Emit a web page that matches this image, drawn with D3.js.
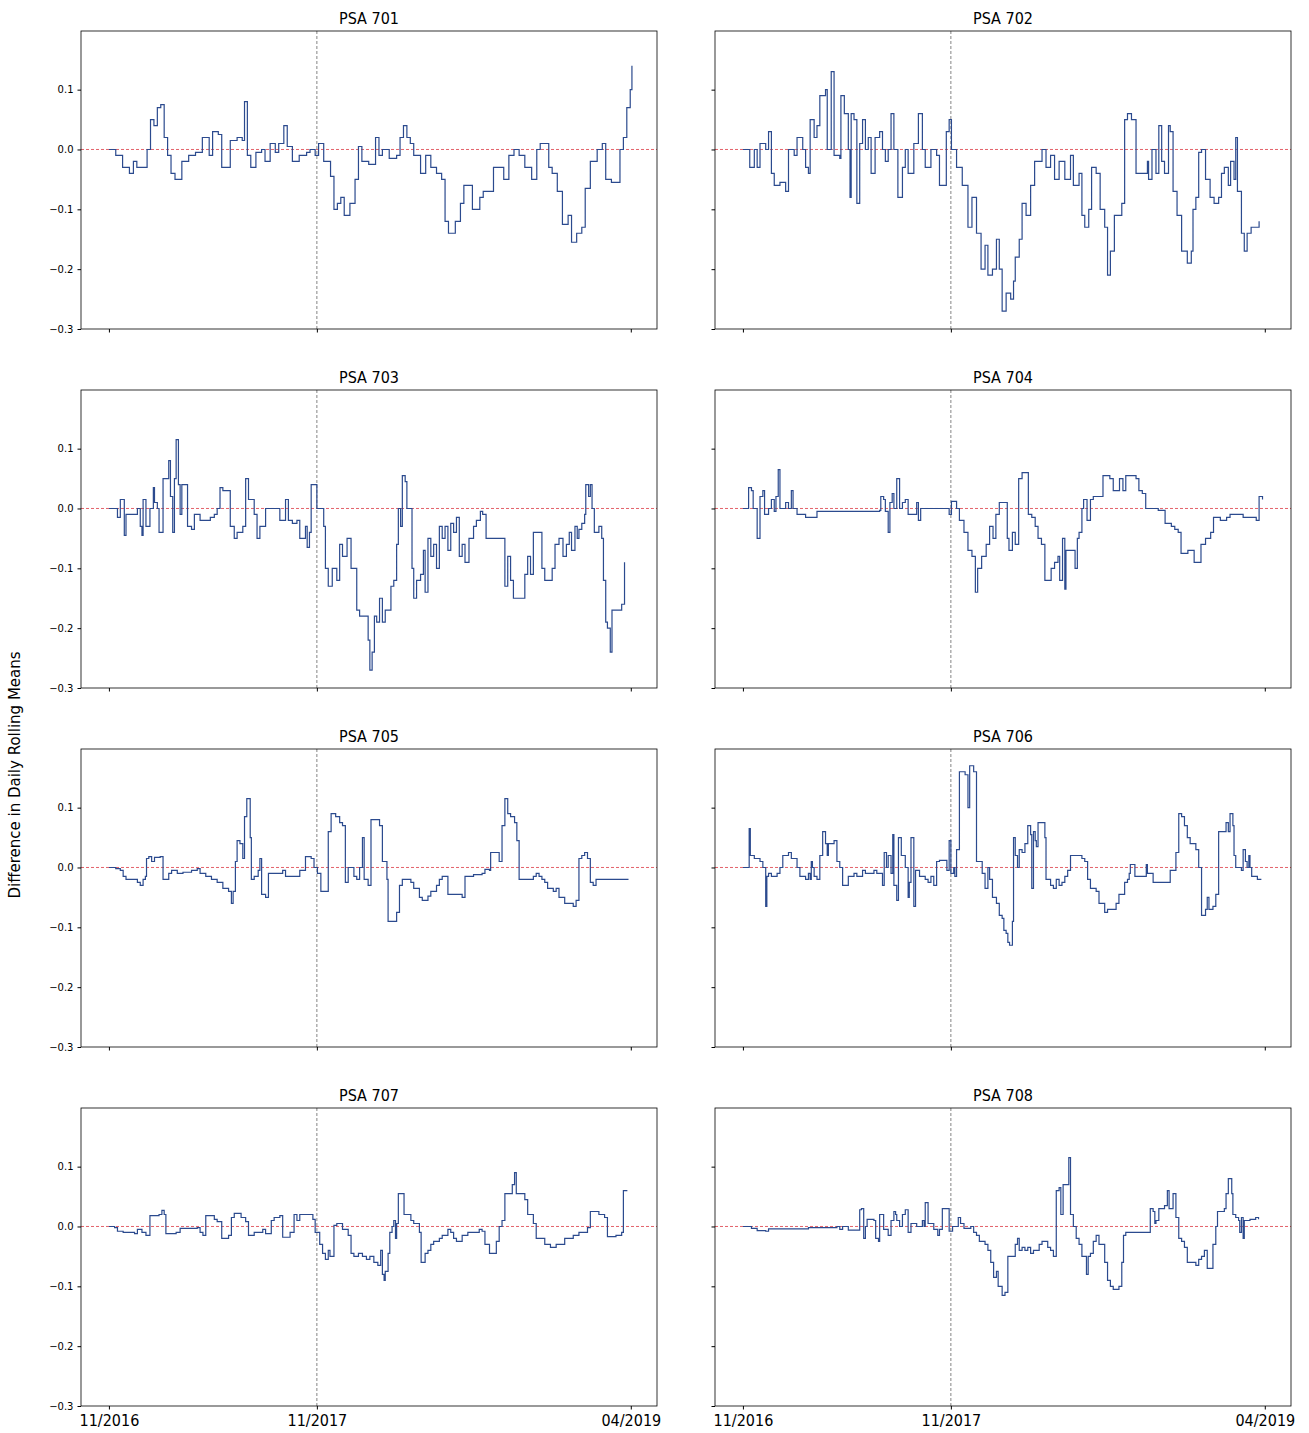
<!DOCTYPE html>
<html lang="en">
<head>
<meta charset="utf-8"/>
<title>PSA differences</title>
<style>
    body { margin: 0; background: #fff; }
    .title { font-family: "DejaVu Sans Condensed", "DejaVu Sans", sans-serif; font-size: 16px; fill: #000; }
    .tick text { font-family: "DejaVu Sans", sans-serif; font-size: 10px; fill: #000; }
    .xlab .tick text { font-size: 16px; font-family: "DejaVu Sans Condensed", "DejaVu Sans", sans-serif; }
    .series { fill: none; stroke: #2b4a8e; stroke-width: 1.2px; }
    .zero { stroke: #e0505a; stroke-width: 0.9px; stroke-dasharray: 3,2; }
    .split { stroke: #777; stroke-width: 0.9px; stroke-dasharray: 3,2; }
</style>
</head>
<body>
<svg id="chart" width="1309" height="1433"></svg>
<script src="https://cdnjs.cloudflare.com/ajax/libs/d3/7.8.5/d3.min.js"></script>
<script>
// days since 11/2016, value
var names = ["PSA 701", "PSA 702", "PSA 703", "PSA 704", "PSA 705", "PSA 706", "PSA 707", "PSA 708"];
var tickDays = [0, 365, 916];
var tickLabels = ["11/2016", "11/2017", "04/2019"];
var yTicks = [0.1, 0.0, -0.1, -0.2, -0.3];
var splitDay = 365;

var psa701 = [[0,0],[12,-0.01],[24,-0.03],[36,-0.04],[43,-0.02],[49,-0.03],[61,-0.03],[67,0],[73,0.05],[79,0.04],[85,0.07],[91,0.075],[97,0.02],[103,-0.01],[109,-0.04],[116,-0.05],[128,-0.02],[140,-0.01],[152,-0.005],[164,0.02],[170,0.02],[176,-0.01],[182,0.03],[192,0.025],[198,-0.03],[207,-0.03],[213,0.015],[225,0.02],[234,0.015],[238,0.08],[243,-0.01],[249,-0.03],[258,-0.005],[268,0],[274,-0.02],[283,0.01],[292,-0.005],[298,0.01],[307,0.04],[313,0.005],[322,-0.02],[334,-0.01],[347,-0.005],[353,0],[362,-0.01],[368,0.01],[377,-0.02],[389,-0.045],[395,-0.1],[401,-0.09],[407,-0.08],[413,-0.11],[423,-0.09],[432,-0.05],[438,0.005],[444,-0.02],[456,-0.025],[468,0.02],[474,-0.01],[480,0],[492,-0.015],[505,-0.01],[511,0.02],[517,0.04],[523,0.02],[529,0.01],[535,-0.01],[547,-0.04],[556,-0.01],[565,-0.03],[575,-0.04],[584,-0.05],[590,-0.12],[596,-0.14],[608,-0.12],[617,-0.09],[623,-0.06],[632,-0.06],[638,-0.1],[651,-0.08],[657,-0.07],[669,-0.07],[675,-0.03],[687,-0.03],[693,-0.05],[702,-0.01],[711,0],[720,-0.01],[730,-0.03],[742,-0.05],[751,0],[757,0.01],[766,0.01],[772,-0.03],[778,-0.04],[787,-0.07],[796,-0.125],[806,-0.11],[812,-0.155],[821,-0.14],[830,-0.13],[836,-0.065],[845,-0.02],[857,0],[866,0.01],[872,-0.05],[882,-0.055],[891,-0.055],[897,0],[903,0.02],[909,0.07],[915,0.1],[918,0.14]];

var psa702 = [[0,0],[12,-0.03],[20,0],[25,-0.03],[30,0.01],[40,0],[45,0.03],[50,-0.04],[55,-0.06],[65,-0.055],[75,-0.07],[80,0],[90,-0.01],[95,0.02],[105,0],[110,-0.03],[115,-0.04],[118,0.05],[125,0.02],[130,0.04],[135,0.09],[140,0.09],[145,0.1],[148,0],[155,0.13],[160,-0.01],[170,-0.015],[172,0.09],[178,0.06],[185,0],[188,-0.08],[190,0.06],[195,0.05],[200,-0.09],[205,0.01],[210,0.05],[215,0],[220,0.02],[225,-0.04],[232,0.02],[240,0.03],[245,0],[250,-0.02],[255,0],[260,0.06],[265,0],[272,-0.08],[280,-0.03],[285,0],[290,-0.04],[300,0.01],[308,0.06],[315,0],[320,-0.03],[330,0],[340,-0.01],[345,-0.06],[352,-0.06],[357,0.03],[362,0.05],[366,0],[375,-0.03],[385,-0.06],[395,-0.13],[402,-0.08],[410,-0.14],[418,-0.2],[425,-0.16],[430,-0.21],[438,-0.2],[445,-0.15],[450,-0.2],[455,-0.27],[462,-0.24],[470,-0.25],[475,-0.22],[478,-0.18],[485,-0.15],[490,-0.09],[497,-0.11],[505,-0.06],[512,-0.02],[520,-0.02],[525,0],[532,-0.03],[540,-0.01],[547,-0.05],[555,-0.02],[565,-0.05],[575,-0.01],[580,-0.06],[590,-0.04],[595,-0.11],[600,-0.13],[607,-0.1],[612,-0.03],[620,-0.04],[627,-0.1],[635,-0.13],[640,-0.21],[645,-0.17],[652,-0.11],[660,-0.11],[665,-0.09],[670,0.05],[675,0.06],[682,0.05],[690,-0.04],[700,-0.04],[705,-0.04],[710,-0.02],[712,-0.05],[718,0],[725,-0.04],[730,0.04],[735,-0.02],[740,-0.04],[747,0.04],[750,0.03],[755,-0.07],[762,-0.11],[770,-0.17],[780,-0.19],[787,-0.17],[790,-0.1],[795,-0.08],[800,-0.005],[805,0],[812,-0.05],[820,-0.08],[827,-0.09],[835,-0.08],[840,-0.04],[845,-0.03],[852,-0.06],[856,-0.02],[862,-0.05],[865,0.02],[868,-0.07],[875,-0.14],[880,-0.17],[885,-0.14],[892,-0.13],[900,-0.13],[906,-0.12]];

var psa703 = [[0,0],[12,0],[15,-0.015],[20,0.015],[27,-0.045],[30,-0.01],[45,-0.01],[50,0],[55,-0.03],[58,-0.045],[60,0.015],[65,-0.03],[70,-0.03],[72,0],[78,0.035],[80,0.01],[85,0],[88,-0.04],[93,-0.04],[95,0.05],[100,0.05],[105,0.08],[108,0.02],[112,-0.04],[115,0.05],[118,0.115],[122,0.04],[125,-0.01],[128,0.04],[135,0.04],[138,-0.03],[145,-0.035],[150,-0.01],[160,-0.02],[170,-0.02],[178,-0.015],[185,-0.01],[190,0],[195,0.035],[200,0.03],[207,0.03],[213,-0.03],[220,-0.05],[225,-0.04],[235,-0.03],[240,0.05],[245,0.015],[255,-0.01],[260,-0.05],[265,-0.03],[275,0],[290,0],[300,-0.02],[310,0.015],[315,-0.02],[322,-0.025],[330,-0.02],[335,-0.05],[345,-0.03],[348,-0.065],[352,-0.04],[355,0.04],[360,0.04],[365,0],[372,0],[377,-0.03],[380,-0.1],[385,-0.13],[392,-0.1],[400,-0.12],[405,-0.06],[410,-0.08],[418,-0.05],[425,-0.1],[430,-0.1],[435,-0.17],[440,-0.18],[450,-0.18],[455,-0.22],[458,-0.27],[462,-0.24],[466,-0.18],[470,-0.19],[475,-0.15],[480,-0.19],[485,-0.17],[490,-0.17],[495,-0.13],[500,-0.12],[505,-0.06],[508,0],[512,-0.03],[515,0.055],[520,0.045],[523,0],[527,0],[532,-0.1],[535,-0.15],[540,-0.12],[547,-0.11],[552,-0.07],[555,-0.14],[560,-0.05],[565,-0.08],[570,-0.06],[575,-0.1],[580,-0.03],[585,-0.05],[590,-0.03],[595,-0.07],[600,-0.025],[605,-0.04],[610,-0.015],[615,-0.08],[620,-0.06],[625,-0.09],[632,-0.05],[640,-0.03],[645,-0.02],[652,-0.005],[656,-0.01],[662,-0.05],[690,-0.05],[695,-0.13],[700,-0.08],[705,-0.12],[710,-0.15],[725,-0.15],[730,-0.11],[735,-0.08],[740,-0.11],[745,-0.04],[752,-0.04],[760,-0.1],[765,-0.12],[772,-0.12],[778,-0.1],[783,-0.06],[790,-0.05],[797,-0.08],[803,-0.06],[808,-0.04],[812,-0.07],[818,-0.03],[822,-0.05],[825,-0.035],[830,-0.025],[835,-0.01],[837,0.04],[842,0.02],[845,0.04],[848,0],[852,-0.04],[860,-0.03],[865,-0.05],[868,-0.12],[872,-0.19],[875,-0.2],[880,-0.24],[883,-0.17],[890,-0.17],[900,-0.16],[905,-0.09]];

var psa704 = [[0,0],[8,0],[10,0.035],[15,0.03],[18,0],[25,-0.05],[30,0.02],[35,0.03],[38,-0.01],[45,0],[50,0.015],[55,-0.005],[58,0.02],[62,0.065],[65,0],[70,0],[75,0.01],[80,0],[85,0.03],[88,0],[95,-0.01],[110,-0.015],[120,-0.015],[130,-0.005],[170,-0.005],[215,-0.005],[240,-0.003],[242,0.02],[247,0.015],[250,-0.005],[255,-0.04],[258,0.01],[262,0.025],[265,0],[270,0.05],[275,0],[280,0.01],[285,0.015],[290,-0.01],[300,-0.01],[305,0.01],[308,-0.02],[312,0],[355,0],[362,-0.01],[366,0.012],[375,0],[380,-0.02],[388,-0.04],[395,-0.07],[402,-0.08],[408,-0.14],[412,-0.1],[419,-0.08],[427,-0.06],[433,-0.03],[439,-0.05],[444,-0.01],[450,0.01],[458,0.01],[464,-0.05],[467,-0.07],[473,-0.04],[478,-0.06],[484,0.05],[490,0.06],[499,0.06],[501,-0.01],[507,-0.015],[513,-0.03],[518,-0.05],[524,-0.06],[530,-0.12],[536,-0.12],[541,-0.1],[547,-0.09],[553,-0.08],[556,-0.12],[561,-0.05],[565,-0.135],[567,-0.07],[575,-0.07],[583,-0.1],[587,-0.05],[590,-0.04],[595,0],[598,0.015],[604,-0.02],[610,0.015],[615,0.02],[627,0.02],[632,0.055],[644,0.05],[650,0.03],[658,0.03],[661,0.05],[667,0.03],[672,0.055],[684,0.055],[690,0.05],[695,0.03],[701,0.025],[707,0],[729,-0.003],[741,-0.025],[752,-0.03],[758,-0.035],[764,-0.04],[769,-0.075],[781,-0.07],[792,-0.09],[804,-0.06],[812,-0.05],[821,-0.04],[826,-0.015],[838,-0.02],[849,-0.015],[855,-0.01],[872,-0.01],[878,-0.015],[901,-0.02],[906,0.02],[912,0.015]];

var psa705 = [[0,0],[12,-0.002],[20,-0.005],[25,-0.015],[30,-0.02],[40,-0.02],[50,-0.025],[55,-0.03],[60,-0.02],[64,-0.015],[66,0.015],[70,0.018],[75,0.01],[80,0.017],[90,0.018],[95,-0.02],[105,-0.01],[110,-0.005],[120,-0.01],[130,-0.008],[140,-0.008],[145,-0.005],[155,-0.002],[160,-0.01],[170,-0.015],[180,-0.02],[190,-0.025],[200,-0.035],[210,-0.04],[215,-0.06],[218,-0.04],[222,0.01],[225,0.045],[230,0.04],[235,0.015],[238,0.085],[242,0.115],[248,0.05],[250,-0.02],[255,-0.015],[262,-0.005],[265,0.015],[268,-0.045],[275,-0.05],[280,-0.01],[305,-0.005],[310,-0.015],[335,-0.005],[345,0.018],[355,0.015],[360,0],[366,-0.01],[372,-0.04],[380,-0.04],[385,0.06],[390,0.09],[398,0.085],[405,0.075],[410,0.07],[415,-0.025],[420,0],[430,-0.015],[435,-0.02],[440,0],[445,0.05],[448,-0.02],[455,-0.03],[460,0.08],[468,0.08],[475,0.07],[480,0.01],[488,-0.02],[490,-0.09],[500,-0.09],[505,-0.075],[510,-0.03],[515,-0.02],[525,-0.02],[530,-0.025],[535,-0.035],[545,-0.05],[550,-0.055],[560,-0.048],[565,-0.04],[575,-0.03],[580,-0.02],[585,-0.015],[590,-0.015],[595,-0.045],[620,-0.05],[625,-0.015],[640,-0.012],[655,-0.01],[660,-0.003],[668,-0.005],[670,0.025],[680,0.025],[685,0.01],[690,0.07],[695,0.115],[700,0.09],[705,0.085],[712,0.075],[716,0.045],[720,-0.02],[745,-0.015],[750,-0.01],[755,-0.015],[760,-0.02],[765,-0.025],[770,-0.035],[780,-0.04],[785,-0.035],[790,-0.05],[800,-0.06],[815,-0.065],[820,-0.055],[825,0.015],[830,0.02],[835,0.025],[840,0.015],[845,-0.025],[850,-0.03],[855,-0.02],[912,-0.02]];

var psa706 = [[0,0],[10,0],[11,0.065],[13,0.02],[20,0.015],[30,0.01],[35,0],[40,-0.065],[42,-0.015],[45,-0.01],[50,-0.015],[60,-0.01],[65,0],[70,0.02],[80,0.025],[85,0.015],[95,0],[100,-0.015],[110,-0.02],[115,-0.01],[118,-0.02],[120,0.01],[122,0],[125,-0.015],[130,-0.02],[135,0.02],[140,0.06],[145,0.04],[148,0.02],[150,0.04],[160,0.045],[165,0.01],[170,0],[175,-0.03],[180,-0.03],[185,-0.015],[195,-0.01],[200,-0.015],[210,-0.005],[215,-0.01],[230,-0.005],[235,-0.01],[245,-0.03],[248,0.025],[252,0],[255,0.02],[260,-0.01],[263,0.055],[265,-0.03],[270,-0.055],[273,0.05],[278,0.02],[285,0],[290,-0.05],[292,-0.025],[295,0.05],[300,-0.065],[303,-0.005],[310,-0.015],[320,-0.02],[325,-0.025],[330,-0.015],[335,-0.03],[340,0.01],[345,0.012],[355,0.012],[358,-0.005],[362,0.045],[365,-0.01],[370,0],[372,-0.015],[375,0.03],[380,0.16],[390,0.155],[395,0.1],[398,0.17],[403,0.17],[405,0.16],[410,0.01],[417,0.01],[420,-0.01],[425,-0.035],[430,0],[433,-0.02],[438,-0.05],[445,-0.06],[450,-0.08],[455,-0.085],[458,-0.105],[462,-0.11],[465,-0.125],[468,-0.13],[473,-0.09],[475,0.05],[478,0.02],[482,0],[485,0.03],[490,0.025],[495,0.04],[500,0.07],[505,0.055],[507,-0.035],[510,0.06],[513,0.045],[515,0.035],[518,0.075],[525,0.075],[530,0.05],[532,-0.02],[540,-0.03],[545,-0.035],[550,-0.02],[555,-0.03],[560,-0.025],[565,-0.015],[570,-0.005],[575,0.02],[595,0.015],[600,0.01],[605,-0.02],[610,-0.035],[620,-0.04],[625,-0.06],[630,-0.06],[635,-0.075],[640,-0.07],[655,-0.06],[660,-0.045],[670,-0.025],[675,-0.02],[678,-0.01],[680,0.005],[688,-0.015],[705,-0.015],[708,0.005],[710,-0.01],[720,-0.025],[745,-0.025],[750,-0.005],[760,0.025],[765,0.09],[770,0.085],[775,0.07],[780,0.05],[785,0.04],[795,0.03],[800,0],[805,-0.08],[812,-0.07],[815,-0.05],[818,-0.07],[825,-0.065],[830,-0.045],[835,0.06],[845,0.06],[848,0.075],[852,0.06],[855,0.09],[860,0.07],[862,0.02],[865,0],[875,-0.005],[878,0.03],[882,0.01],[885,0],[888,0.02],[890,0],[893,-0.015],[903,-0.02],[910,-0.02]];

var psa707 = [[0,0],[10,-0.002],[15,-0.008],[25,-0.01],[45,-0.012],[50,-0.005],[58,-0.01],[65,-0.015],[70,-0.015],[72,0.018],[88,0.02],[93,0.027],[97,0.02],[100,-0.012],[118,-0.01],[125,-0.003],[155,-0.002],[160,-0.01],[165,-0.015],[170,0.018],[185,0.012],[190,0.008],[198,-0.02],[210,-0.015],[215,0.015],[220,0.022],[232,0.015],[240,0.008],[245,-0.015],[255,-0.01],[270,-0.005],[275,-0.012],[285,0.01],[290,0.015],[300,0.018],[305,-0.018],[318,-0.01],[325,0.02],[330,0.01],[335,0.02],[358,0.012],[362,-0.01],[370,-0.03],[375,-0.045],[380,-0.055],[385,-0.04],[388,-0.05],[392,-0.05],[395,0.002],[400,0.005],[410,-0.005],[420,-0.015],[425,-0.045],[430,-0.05],[438,-0.045],[445,-0.05],[452,-0.055],[458,-0.05],[465,-0.06],[472,-0.065],[477,-0.04],[480,-0.08],[483,-0.09],[485,-0.075],[490,-0.045],[493,-0.01],[497,0],[500,0.01],[503,-0.02],[505,0.005],[508,0.055],[512,0.055],[518,0.02],[530,0.01],[535,0.005],[545,-0.01],[548,-0.06],[555,-0.045],[560,-0.04],[565,-0.03],[570,-0.025],[580,-0.02],[585,-0.015],[595,-0.005],[600,-0.01],[605,-0.02],[610,-0.025],[620,-0.015],[630,-0.01],[650,-0.005],[655,-0.008],[660,-0.03],[668,-0.045],[675,-0.045],[680,-0.025],[685,0],[690,0.01],[695,0.055],[705,0.055],[708,0.07],[712,0.09],[715,0.055],[730,0.045],[735,0.02],[745,0.005],[750,-0.02],[765,-0.03],[775,-0.035],[785,-0.03],[800,-0.02],[815,-0.015],[825,-0.01],[840,-0.002],[845,0.025],[855,0.025],[860,0.02],[870,0.015],[875,-0.017],[890,-0.015],[900,-0.01],[903,0.06],[910,0.06]];

var psa708 = [[0,0],[10,0],[15,-0.003],[25,-0.007],[40,-0.008],[45,-0.004],[115,-0.002],[150,-0.002],[165,0],[170,-0.005],[175,0],[185,-0.006],[198,-0.006],[205,0.028],[208,0.03],[212,-0.02],[215,0],[218,0.012],[230,0.01],[233,-0.02],[238,-0.025],[240,0.02],[243,0.02],[247,-0.005],[255,-0.015],[260,0.01],[265,0.025],[268,0.02],[270,0.01],[275,0],[280,0.02],[285,0.028],[290,-0.01],[295,0.005],[305,0],[315,0.01],[318,0],[320,0.04],[325,0.005],[335,-0.005],[342,-0.015],[345,-0.005],[350,0.03],[358,0.03],[362,-0.008],[368,0],[378,0.015],[382,0.005],[388,-0.003],[400,0],[405,-0.01],[410,-0.015],[415,-0.025],[425,-0.03],[430,-0.04],[435,-0.06],[440,-0.085],[445,-0.075],[448,-0.1],[455,-0.115],[460,-0.11],[465,-0.05],[475,-0.05],[478,-0.03],[482,-0.02],[485,-0.04],[490,-0.035],[495,-0.04],[500,-0.035],[505,-0.045],[510,-0.04],[520,-0.03],[525,-0.025],[535,-0.035],[540,-0.04],[545,-0.05],[550,0.06],[555,0.065],[558,0.02],[562,0.07],[568,0.07],[572,0.115],[575,0.02],[580,0],[585,-0.02],[590,-0.03],[595,-0.05],[600,-0.05],[603,-0.08],[606,-0.05],[610,-0.045],[615,-0.025],[620,-0.015],[625,-0.03],[630,-0.03],[635,-0.06],[640,-0.09],[645,-0.1],[650,-0.105],[660,-0.1],[665,-0.06],[668,-0.015],[672,-0.01],[710,-0.01],[715,0.03],[720,0.025],[723,0.005],[725,0.01],[730,0.03],[740,0.035],[745,0.06],[748,0.03],[755,0.055],[760,0.015],[765,-0.02],[770,-0.025],[775,-0.035],[780,-0.06],[795,-0.065],[800,-0.055],[805,-0.05],[810,-0.04],[815,-0.07],[820,-0.07],[825,-0.03],[830,0],[833,0.025],[845,0.03],[848,0.055],[852,0.08],[855,0.08],[858,0.055],[860,0.02],[865,0.015],[870,0.01],[872,-0.01],[875,0.015],[878,-0.02],[880,0.01],[890,0.012],[900,0.015],[905,0.012]];

var allSeries = [psa701, psa702, psa703, psa704, psa705, psa706, psa707, psa708];

var svg = d3.select("#chart");
var panelW = 576, panelH = 298;
var colX = [81, 715], rowY = [31, 390, 749, 1108];

var x = d3.scaleLinear().domain([-49, 962]).range([0, panelW]);
var y = d3.scaleLinear().domain([-0.3, 0.198]).range([panelH, 0]);

var line = d3.line()
    .x(function(d) { return x(d[0]); })
    .y(function(d) { return y(d[1]); })
    .curve(d3.curveStepAfter);

allSeries.forEach(function(data, i) {
    var col = i % 2, row = Math.floor(i / 2);
    var g = svg.append("g").attr("transform", "translate(" + colX[col] + "," + rowY[row] + ")");

    g.append("line").attr("class", "zero")
        .attr("x1", 0).attr("x2", panelW).attr("y1", y(0)).attr("y2", y(0));
    g.append("line").attr("class", "split")
        .attr("x1", x(splitDay)).attr("x2", x(splitDay)).attr("y1", 0).attr("y2", panelH);

    g.append("path").datum(data).attr("class", "series").attr("d", line);

    var yAxis = d3.axisLeft(y).tickValues(yTicks).tickSize(3.5).tickPadding(4)
        .tickFormat(col === 0 ? function(d) { return d3.format(".1f")(d).replace("-", "\u2212"); } : "");
    g.append("g").call(yAxis).call(function(a) { a.select(".domain").remove(); });

    var xAxis = d3.axisBottom(x).tickValues(tickDays).tickSize(3.5).tickPadding(5)
        .tickFormat(row === 3 ? function(d, k) { return tickLabels[k]; } : "");
    g.append("g").attr("class", "xlab").attr("transform", "translate(0," + panelH + ")")
        .call(xAxis).call(function(a) { a.select(".domain").remove(); });

    g.append("rect").attr("width", panelW).attr("height", panelH)
        .attr("fill", "none").attr("stroke", "#000").attr("stroke-width", 0.8);

    g.append("text").attr("class", "title")
        .attr("x", panelW / 2).attr("y", -7).attr("text-anchor", "middle")
        .text(names[i]);
});

svg.append("text")
    .attr("transform", "translate(20,775) rotate(-90)")
    .attr("text-anchor", "middle")
    .style("font-family", "DejaVu Sans, sans-serif")
    .style("font-size", "15px")
    .text("Difference in Daily Rolling Means");
</script>
</body>
</html>
